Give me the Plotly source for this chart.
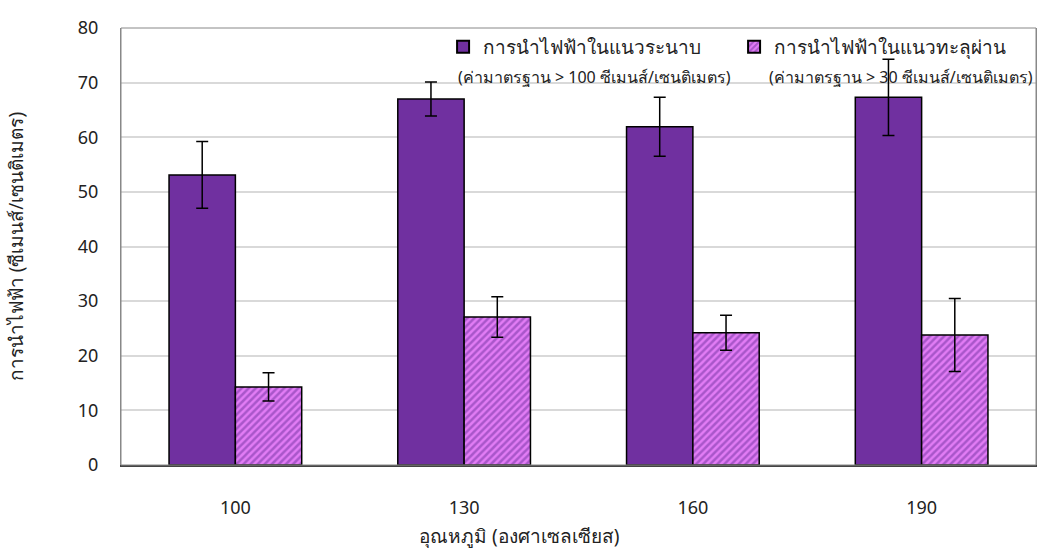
import plotly.graph_objects as go

# Temperature categories (°C)
temperatures = ["100", "130", "160", "190"]

# In-plane conductivity (S/cm) and its standard deviation
inplane_mean = [53.1, 67.0, 61.9, 67.3]
inplane_err = [6.1, 3.1, 5.4, 7.0]

# Through-plane conductivity (S/cm) and its standard deviation
through_mean = [14.3, 27.1, 24.2, 23.8]
through_err = [2.6, 3.7, 3.2, 6.7]

series_names = ["การนำไฟฟ้าในแนวระนาบ", "การนำไฟฟ้าในแนวทะลุผ่าน"]
series_notes = ["(ค่ามาตรฐาน > 100 ซีเมนส์/เซนติเมตร)", "(ค่ามาตรฐาน > 30 ซีเมนส์/เซนติเมตร)"]

FONT = "Noto Sans, DejaVu Sans, sans-serif"
PURPLE = "#7030A0"
PINK = "#E27CF5"

fig = go.Figure()
fig.add_trace(go.Bar(
    x=temperatures, y=inplane_mean, name=series_names[0],
    marker=dict(color=PURPLE, line=dict(color="black", width=1.5)),
    error_y=dict(type="data", array=inplane_err, color="black", thickness=1.5, width=6),
))
fig.add_trace(go.Bar(
    x=temperatures, y=through_mean, name=series_names[1],
    marker=dict(color=PINK, line=dict(color="black", width=1.5),
                pattern=dict(shape="/", fgcolor=PURPLE, bgcolor=PINK, size=5, solidity=0.5)),
    error_y=dict(type="data", array=through_err, color="black", thickness=1.5, width=6),
))

fig.update_layout(
    width=1039, height=556,
    margin=dict(l=121, r=3, t=28, b=91, autoexpand=False),
    paper_bgcolor="white", plot_bgcolor="white",
    font=dict(family=FONT, size=18, color="#222"),
    barmode="group", bargap=0.42, bargroupgap=0,
    showlegend=True,
    legend=dict(orientation="h", x=0.352, y=1.0, xanchor="left", yanchor="top",
                bgcolor="rgba(0,0,0,0)", font=dict(size=19),
                entrywidth=246, entrywidthmode="pixels", itemsizing="constant"),
    xaxis=dict(showgrid=False, showline=True, linecolor="#444", linewidth=1.5,
               ticks="", tickfont=dict(size=18), mirror=False, ticklabelstandoff=26),
    yaxis=dict(range=[0, 80], dtick=10, showgrid=True, gridcolor="#d9d9d9", gridwidth=1.5,
               showline=True, linecolor="#888", linewidth=1, mirror=True,
               ticks="", tickfont=dict(size=18), zeroline=False, ticklabelstandoff=18),
    shapes=[dict(type="rect", xref="paper", yref="paper", x0=0, x1=1, y0=0, y1=1,
                 line=dict(color="#888", width=1), fillcolor="rgba(0,0,0,0)", layer="above")],
    annotations=[
        dict(text="อุณหภูมิ (องศาเซลเซียส)", xref="paper", yref="paper",
             x=0.4355, y=-0.162, xanchor="center", yanchor="middle", showarrow=False,
             font=dict(size=19)),
        dict(text="การนำไฟฟ้า (ซีเมนส์/เซนติเมตร)", xref="paper", yref="paper",
             x=-0.115, y=0.5, xanchor="center", yanchor="middle", showarrow=False,
             textangle=-90, font=dict(size=19)),
        dict(text=series_notes[0], xref="paper", yref="paper", x=0.518, y=0.889,
             xanchor="center", yanchor="middle", showarrow=False, font=dict(size=16)),
        dict(text=series_notes[1], xref="paper", yref="paper", x=0.853, y=0.889,
             xanchor="center", yanchor="middle", showarrow=False, font=dict(size=16)),
    ],
)

fig.write_html("out.html")
